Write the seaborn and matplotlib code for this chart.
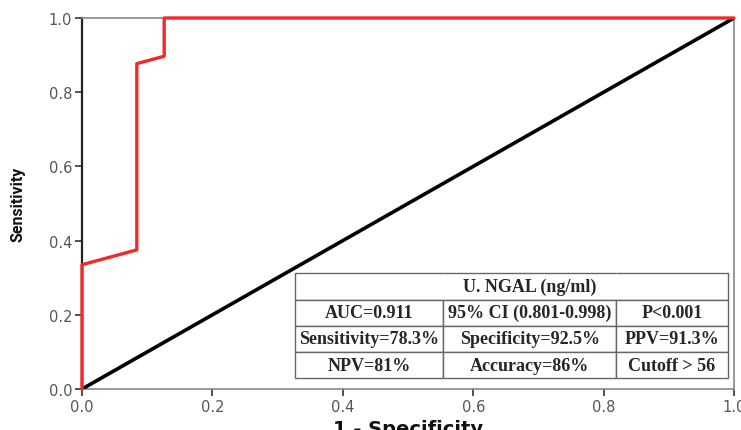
import matplotlib
matplotlib.use("Agg")
import matplotlib.pyplot as plt
from matplotlib import font_manager
import seaborn as sns
import pandas as pd

# ROC curve points (1 - specificity, sensitivity)
fpr = [0.0, 0.0, 0.084, 0.084, 0.126, 0.126, 1.0]
tpr = [0.0, 0.335, 0.375, 0.877, 0.897, 1.0, 1.0]
ref_line = [0.0, 1.0]

table_title = "U. NGAL (ng/ml)"
table_rows = [
    ["AUC=0.911", "95% CI (0.801-0.998)", "P<0.001"],
    ["Sensitivity=78.3%", "Specificity=92.5%", "PPV=91.3%"],
    ["NPV=81%", "Accuracy=86%", "Cutoff > 56"],
]
ticks = [0.0, 0.2, 0.4, 0.6, 0.8, 1.0]

sns.set_style("white")
plt.rcParams["font.family"] = ["DejaVu Sans"]

# narrow face for the y label if one is there
names = {f.name for f in font_manager.fontManager.ttflist}
if "Liberation Sans Narrow" in names:
    ylab_font, ylab_size = "Liberation Sans Narrow", 13
elif "DejaVu Sans Condensed" in names:
    ylab_font, ylab_size = "DejaVu Sans Condensed", 10.5
else:
    ylab_font, ylab_size = "Roboto", 11.5

fig = plt.figure(figsize=(7.41, 4.31), dpi=100)
ax = fig.add_axes([0.1107, 0.0951, 0.8799, 0.8608])

roc = pd.DataFrame({"fpr": fpr, "tpr": tpr})
diag = pd.DataFrame({"x": ref_line, "y": ref_line})
sns.lineplot(data=diag, x="x", y="y", ax=ax, color="black", lw=2.6,
             sort=False, estimator=None, zorder=3)
sns.lineplot(data=roc, x="fpr", y="tpr", ax=ax, color="#f52828", lw=2.4,
             sort=False, estimator=None, zorder=4, clip_on=False)

ax.set_xlim(0, 1)
ax.set_ylim(0, 1)
ax.set_xticks(ticks)
ax.set_yticks(ticks)
ax.set_xticklabels([f"{t:.1f}" for t in ticks])
ax.set_yticklabels([f"{t:.1f}" for t in ticks])
ax.tick_params(axis="both", direction="out", length=5, width=1.2,
               colors="#333333", labelsize=10.5, labelcolor="#555555", pad=2)
ax.tick_params(axis="x", bottom=True)
ax.tick_params(axis="y", left=True)

ax.spines["left"].set_color("#222222")
ax.spines["left"].set_linewidth(1.6)
for s in ["top", "right", "bottom"]:
    ax.spines[s].set_color("#888888")
    ax.spines[s].set_linewidth(1.2)

ax.set_xlabel("1 - Specificity", fontsize=14, fontweight="bold",
              color="#111111", labelpad=4)
ax.set_ylabel("Sensitivity", fontsize=ylab_size, fontweight="bold",
              color="#111111", family=[ylab_font, "DejaVu Sans"], labelpad=17)

# summary table
cells = [["", table_title, ""]] + table_rows
tbl = ax.table(cellText=cells, cellLoc="center",
               colWidths=[0.3425, 0.3988, 0.2587],
               bbox=[0.3267, 0.0288, 0.6641, 0.2831], zorder=6)
tbl.auto_set_font_size(False)
for (r, c), cell in tbl.get_celld().items():
    cell.set_edgecolor("#666666")
    cell.set_linewidth(1.0)
    cell.set_facecolor("white")
    cell.get_text().set_fontsize(13)
    cell.get_text().set_fontweight("bold")
    cell.get_text().set_family(["Liberation Serif", "DejaVu Serif"])
    if r == 0:
        cell.visible_edges = {0: "BTL", 1: "BT", 2: "BTR"}[c]

fig.savefig("out.png", dpi=100)
